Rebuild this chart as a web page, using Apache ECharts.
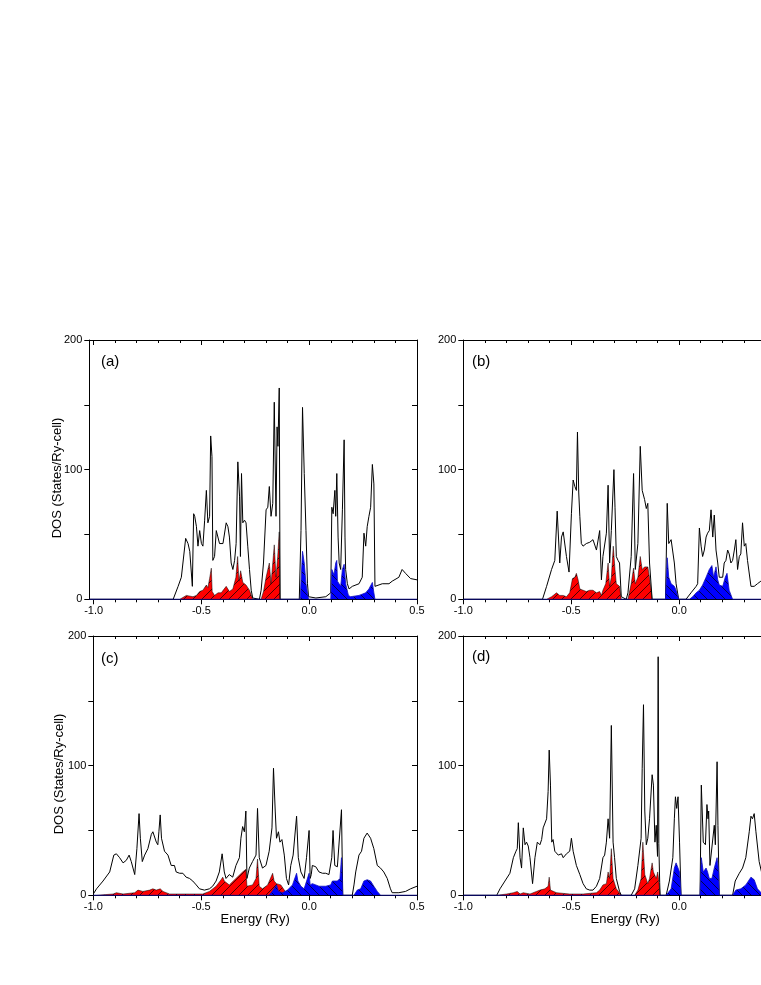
<!DOCTYPE html>
<html><head><meta charset="utf-8">
<script src="https://cdn.jsdelivr.net/npm/echarts@6/dist/echarts.min.js"></script>
<style>html,body{margin:0;padding:0;background:#fff}#c{width:761px;height:985px}</style>
</head><body><div id="c"></div>
<script>
// ---------- tick values / labels ----------
const xMajorTicks = [-1.0, -0.5, 0.0, 0.5];
const xMinorTicks = [-1.0, -0.9, -0.8, -0.7, -0.6, -0.5, -0.4, -0.3, -0.2, -0.1, 0.0, 0.1, 0.2, 0.3, 0.4, 0.5];
const yTicks = [0, 50, 100, 150, 200];
const yLabels = [0, 100, 200];
const panelLabels = ['(a)', '(b)', '(c)', '(d)'];
const xTitle = 'Energy (Ry)';
const yTitle = 'DOS (States/Ry-cell)';

// ---------- data: [energy (Ry), DOS] ----------
const totalA = [[-1.02,0],[-0.631,0],[-0.608,10],[-0.593,17],[-0.573,47],[-0.562,43],[-0.554,37],[-0.547,38],[-0.542,10],[-0.536,66],[-0.531,64],[-0.523,56],[-0.516,41],[-0.508,53],[-0.500,43],[-0.493,41],[-0.485,61],[-0.477,84],[-0.470,59],[-0.462,64],[-0.457,126],[-0.451,110],[-0.447,30],[-0.439,33],[-0.431,53],[-0.423,53],[-0.416,43],[-0.400,43],[-0.385,59],[-0.377,56],[-0.370,48],[-0.362,28],[-0.354,23],[-0.346,30],[-0.339,43],[-0.331,106],[-0.323,79],[-0.319,33],[-0.314,97],[-0.308,59],[-0.300,61],[-0.293,59],[-0.285,41],[-0.277,23],[-0.269,7],[-0.262,1],[-0.231,0],[-0.223,7],[-0.212,28],[-0.200,69],[-0.192,71],[-0.185,87],[-0.177,64],[-0.169,74],[-0.162,152],[-0.154,64],[-0.149,133],[-0.145,118],[-0.139,163],[-0.135,0],[-0.046,0],[-0.038,53],[-0.031,148],[-0.023,97],[-0.015,53],[-0.008,12],[-0.003,2],[0.031,1],[0.077,2],[0.100,5],[0.105,71],[0.111,66],[0.119,84],[0.123,64],[0.128,97],[0.134,48],[0.139,28],[0.146,23],[0.154,69],[0.162,123],[0.166,48],[0.169,23],[0.177,12],[0.185,8],[0.200,10],[0.231,12],[0.246,17],[0.254,51],[0.262,41],[0.269,56],[0.277,64],[0.285,71],[0.293,104],[0.300,89],[0.305,10],[0.339,12],[0.370,12],[0.385,14],[0.416,17],[0.431,23],[0.447,20],[0.470,16],[0.500,15]];
const redA = [[-1.02,0],[-0.600,0],[-0.570,3],[-0.539,2],[-0.523,3],[-0.508,6],[-0.493,7],[-0.477,11],[-0.470,9],[-0.462,16],[-0.454,24],[-0.450,6],[-0.439,3],[-0.423,5],[-0.408,5],[-0.385,10],[-0.370,6],[-0.354,8],[-0.340,17],[-0.332,33],[-0.326,14],[-0.318,22],[-0.308,13],[-0.293,11],[-0.277,7],[-0.262,0],[-0.223,0],[-0.212,6],[-0.200,17],[-0.185,28],[-0.177,12],[-0.169,28],[-0.162,42],[-0.154,17],[-0.146,33],[-0.139,52],[-0.135,0],[0.5,0]];
const blueA = [[-1.02,0],[-0.042,0],[-0.031,37],[-0.023,28],[-0.015,12],[-0.003,0],[0.100,0],[0.105,23],[0.115,19],[0.123,28],[0.128,30],[0.131,14],[0.146,10],[0.154,23],[0.162,27],[0.169,12],[0.182,3],[0.192,2],[0.231,3],[0.262,5],[0.277,8],[0.293,13],[0.300,5],[0.305,0],[0.5,0]];

const totalB = [[-1.0,0],[-0.633,0],[-0.614,10],[-0.591,23],[-0.576,30],[-0.565,68],[-0.553,28],[-0.545,48],[-0.537,52],[-0.530,51],[-0.522,33],[-0.510,21],[-0.499,66],[-0.491,92],[-0.483,87],[-0.476,84],[-0.471,129],[-0.465,82],[-0.460,64],[-0.453,43],[-0.445,41],[-0.430,43],[-0.414,44],[-0.399,46],[-0.383,38],[-0.368,53],[-0.360,15],[-0.353,33],[-0.337,51],[-0.329,88],[-0.322,28],[-0.314,53],[-0.302,100],[-0.297,71],[-0.291,33],[-0.283,30],[-0.276,28],[-0.268,2],[-0.245,0],[-0.237,5],[-0.222,33],[-0.211,97],[-0.203,23],[-0.191,43],[-0.180,118],[-0.171,84],[-0.160,77],[-0.152,70],[-0.145,74],[-0.137,28],[-0.125,0],[-0.063,0],[-0.055,74],[-0.048,43],[-0.037,46],[-0.022,28],[-0.014,12],[-0.002,0],[0.032,0],[0.055,5],[0.079,10],[0.086,12],[0.094,55],[0.102,41],[0.109,33],[0.117,38],[0.125,48],[0.132,51],[0.140,53],[0.148,69],[0.156,48],[0.163,65],[0.171,38],[0.179,28],[0.186,17],[0.194,16],[0.202,17],[0.209,28],[0.217,30],[0.225,38],[0.232,35],[0.240,28],[0.248,30],[0.256,38],[0.263,46],[0.271,23],[0.279,33],[0.286,35],[0.294,59],[0.302,41],[0.309,43],[0.317,30],[0.325,29],[0.333,10],[0.348,10],[0.363,12],[0.379,14],[0.420,15],[0.500,15]];
const redB = [[-1.0,0],[-0.614,0],[-0.591,2],[-0.568,5],[-0.553,3],[-0.537,3],[-0.522,2],[-0.507,5],[-0.494,16],[-0.483,17],[-0.476,20],[-0.468,15],[-0.460,8],[-0.445,7],[-0.430,6],[-0.414,7],[-0.399,7],[-0.383,5],[-0.368,6],[-0.360,3],[-0.353,7],[-0.340,12],[-0.329,28],[-0.322,10],[-0.314,17],[-0.305,41],[-0.297,23],[-0.291,12],[-0.276,10],[-0.268,0],[-0.237,0],[-0.222,12],[-0.211,24],[-0.203,12],[-0.191,17],[-0.180,33],[-0.171,23],[-0.160,25],[-0.145,25],[-0.137,17],[-0.125,0],[0.5,0]];
const blueB = [[-1.0,0],[-0.063,0],[-0.055,32],[-0.048,17],[-0.037,12],[-0.022,10],[-0.014,7],[-0.002,0],[0.048,0],[0.063,2],[0.079,5],[0.094,7],[0.109,11],[0.125,17],[0.140,23],[0.152,26],[0.160,17],[0.171,25],[0.179,15],[0.186,11],[0.202,10],[0.214,17],[0.222,20],[0.232,7],[0.248,0],[0.5,0]];

const totalC = [[-1.0,1],[-0.985,5],[-0.955,11],[-0.924,18],[-0.905,31],[-0.893,32],[-0.878,29],[-0.862,25],[-0.847,27],[-0.834,31],[-0.824,26],[-0.808,16],[-0.798,36],[-0.788,63],[-0.782,44],[-0.773,26],[-0.762,31],[-0.747,36],[-0.731,47],[-0.724,49],[-0.708,41],[-0.701,39],[-0.696,49],[-0.690,62],[-0.684,44],[-0.670,34],[-0.654,31],[-0.639,23],[-0.624,23],[-0.616,18],[-0.600,17],[-0.585,17],[-0.570,14],[-0.554,13],[-0.539,11],[-0.523,8],[-0.508,5],[-0.485,4],[-0.462,5],[-0.447,7],[-0.431,11],[-0.416,18],[-0.403,32],[-0.393,18],[-0.385,13],[-0.370,16],[-0.354,14],[-0.339,23],[-0.323,29],[-0.316,44],[-0.308,53],[-0.300,49],[-0.293,65],[-0.288,13],[-0.277,21],[-0.262,26],[-0.246,31],[-0.239,67],[-0.231,29],[-0.216,21],[-0.200,23],[-0.185,34],[-0.172,52],[-0.165,98],[-0.157,65],[-0.151,44],[-0.142,49],[-0.135,41],[-0.126,43],[-0.115,31],[-0.105,13],[-0.095,8],[-0.085,23],[-0.074,31],[-0.058,61],[-0.050,29],[-0.038,18],[-0.023,13],[-0.012,29],[0.000,50],[0.005,13],[0.010,16],[0.015,23],[0.031,22],[0.046,18],[0.062,17],[0.077,17],[0.092,16],[0.105,29],[0.111,50],[0.119,23],[0.131,22],[0.150,66],[0.156,0],[0.200,0],[0.208,8],[0.216,18],[0.231,31],[0.243,34],[0.254,44],[0.269,48],[0.285,44],[0.300,36],[0.316,23],[0.331,21],[0.346,18],[0.362,13],[0.377,5],[0.385,2],[0.416,2],[0.447,3],[0.470,5],[0.500,7]];
const redC = [[-1.0,0],[-0.985,0],[-0.908,1],[-0.893,2],[-0.862,1],[-0.808,2],[-0.793,4],[-0.785,5],[-0.770,3],[-0.739,4],[-0.724,5],[-0.708,4],[-0.690,5],[-0.677,3],[-0.647,1],[-0.554,1],[-0.493,1],[-0.462,3],[-0.431,7],[-0.408,12],[-0.400,14],[-0.393,11],[-0.370,8],[-0.339,13],[-0.308,18],[-0.293,20],[-0.288,7],[-0.262,8],[-0.246,13],[-0.239,28],[-0.231,7],[-0.216,5],[-0.192,8],[-0.169,17],[-0.162,11],[-0.151,9],[-0.131,8],[-0.115,4],[-0.100,1],[-0.085,0],[0.5,0]];
const blueC = [[-1.0,0],[-0.185,0],[-0.162,5],[-0.151,8],[-0.142,3],[-0.123,2],[-0.100,4],[-0.077,8],[-0.058,17],[-0.052,11],[-0.038,7],[-0.023,5],[0.000,17],[0.005,8],[0.015,9],[0.031,8],[0.046,7],[0.077,7],[0.100,8],[0.108,11],[0.131,11],[0.143,13],[0.150,29],[0.156,0],[0.208,0],[0.223,4],[0.239,5],[0.254,11],[0.269,12],[0.285,11],[0.300,7],[0.316,3],[0.331,0],[0.5,0]];

const totalD = [[-1.0,0],[-0.845,0],[-0.830,5],[-0.807,11],[-0.784,17],[-0.768,29],[-0.756,34],[-0.750,36],[-0.745,56],[-0.737,29],[-0.730,21],[-0.722,52],[-0.714,39],[-0.707,41],[-0.699,38],[-0.691,29],[-0.679,9],[-0.668,29],[-0.657,41],[-0.645,39],[-0.637,43],[-0.630,52],[-0.622,52],[-0.614,59],[-0.607,80],[-0.602,112],[-0.596,85],[-0.590,41],[-0.584,43],[-0.576,34],[-0.560,31],[-0.545,32],[-0.537,29],[-0.522,32],[-0.507,34],[-0.499,44],[-0.491,34],[-0.476,23],[-0.460,16],[-0.445,9],[-0.430,5],[-0.414,4],[-0.399,4],[-0.383,7],[-0.368,13],[-0.353,29],[-0.345,31],[-0.337,41],[-0.329,59],[-0.322,44],[-0.314,131],[-0.306,41],[-0.299,29],[-0.291,13],[-0.276,3],[-0.268,0],[-0.222,0],[-0.206,5],[-0.191,23],[-0.176,44],[-0.171,98],[-0.165,147],[-0.159,65],[-0.152,39],[-0.145,44],[-0.137,59],[-0.125,93],[-0.119,85],[-0.112,41],[-0.106,54],[-0.100,30],[-0.097,184],[-0.094,40],[-0.090,10],[-0.088,0],[-0.060,0],[-0.045,11],[-0.029,29],[-0.022,59],[-0.017,76],[-0.011,67],[-0.005,76],[0.002,41],[0.009,0],[0.097,0],[0.103,85],[0.112,41],[0.122,39],[0.129,70],[0.134,59],[0.137,65],[0.143,23],[0.152,23],[0.163,54],[0.168,39],[0.176,103],[0.180,54],[0.186,0],[0.248,0],[0.260,11],[0.279,17],[0.294,21],[0.309,29],[0.325,49],[0.333,61],[0.340,59],[0.348,63],[0.356,49],[0.371,26],[0.390,12],[0.420,4],[0.450,1],[0.500,0]];
const redD = [[-1.0,0],[-0.845,0],[-0.799,1],[-0.768,2],[-0.750,3],[-0.737,1],[-0.722,2],[-0.691,1],[-0.661,3],[-0.645,4],[-0.622,5],[-0.607,7],[-0.602,14],[-0.596,4],[-0.568,2],[-0.507,1],[-0.445,1],[-0.383,2],[-0.368,4],[-0.353,8],[-0.337,9],[-0.329,18],[-0.322,13],[-0.314,36],[-0.306,13],[-0.291,5],[-0.268,0],[-0.206,0],[-0.191,4],[-0.176,13],[-0.168,41],[-0.159,16],[-0.145,9],[-0.137,13],[-0.125,25],[-0.119,18],[-0.106,13],[-0.099,18],[-0.094,11],[-0.088,0],[0.5,0]];
const blueD = [[-1.0,0],[-0.060,0],[-0.037,5],[-0.022,21],[-0.014,25],[-0.005,25],[0.002,18],[0.009,0],[0.097,0],[0.103,29],[0.112,18],[0.125,21],[0.132,18],[0.140,13],[0.152,13],[0.163,21],[0.176,29],[0.183,18],[0.186,0],[0.248,0],[0.263,4],[0.286,5],[0.309,8],[0.333,14],[0.348,12],[0.363,5],[0.380,2],[0.400,0],[0.5,0]];

// ---------- styling / layout ----------
const FONT = '"Liberation Sans", Arial, Helvetica, sans-serif';

function hatch(bg, forward) {
  const s = 9;
  const c = document.createElement('canvas');
  c.width = s; c.height = s;
  const g = c.getContext('2d');
  g.fillStyle = bg; g.fillRect(0, 0, s, s);
  g.strokeStyle = '#000'; g.lineWidth = 0.7;
  g.beginPath();
  if (forward) {
    g.moveTo(0, s); g.lineTo(s, 0);
    g.moveTo(-1, 1); g.lineTo(1, -1);
    g.moveTo(s - 1, s + 1); g.lineTo(s + 1, s - 1);
  } else {
    g.moveTo(0, 0); g.lineTo(s, s);
    g.moveTo(-1, s - 1); g.lineTo(1, s + 1);
    g.moveTo(s - 1, -1); g.lineTo(s + 1, 1);
  }
  g.stroke();
  return c;
}
const redFill = { image: hatch('#ff0000', true), repeat: 'repeat' };
const blueFill = { image: hatch('#0000ff', false), repeat: 'repeat' };

const panels = [
  { grid: { left: 89.3, top: 340, width: 327.7, height: 259.3 }, xMin: -1.02, total: totalA, red: redA, blue: blueA, label: panelLabels[0], lx: 101, ly: 362, yName: true, xName: false, nx: 57, ny: 478 },
  { grid: { left: 463.3, top: 340, width: 323.7, height: 259.3 }, xMin: -1.0, total: totalB, red: redB, blue: blueB, label: panelLabels[1], lx: 472, ly: 362, yName: false, xName: false },
  { grid: { left: 93.3, top: 636, width: 323.7, height: 259.3 }, xMin: -1.0, total: totalC, red: redC, blue: blueC, label: panelLabels[2], lx: 101, ly: 659, yName: true, xName: true, nx: 59, ny: 774 },
  { grid: { left: 463.3, top: 636, width: 323.7, height: 259.3 }, xMin: -1.0, total: totalD, red: redD, blue: blueD, label: panelLabels[3], lx: 472, ly: 657, yName: false, xName: true }
];

const axisLine = { show: true, onZero: false, lineStyle: { color: '#000', width: 1 } };
const labelStyle = { color: '#000', fontSize: 11, fontFamily: FONT };
const grids = [], xAxes = [], yAxes = [], series = [], graphics = [];

panels.forEach((p, i) => {
  grids.push(Object.assign({ containLabel: false, show: false, outerBoundsMode: 'none' }, p.grid));
  const xBase = { type: 'value', gridIndex: i, min: p.xMin, max: 0.5, splitLine: { show: false }, axisPointer: { show: false } };
  xAxes.push(Object.assign({}, xBase, {
    position: 'bottom', axisLine: axisLine,
    axisTick: { show: true, inside: false, length: 5, customValues: xMajorTicks, lineStyle: { color: '#000' } },
    axisLabel: Object.assign({ show: true, margin: 6, customValues: xMajorTicks, formatter: v => v.toFixed(1) }, labelStyle),
    name: p.xName ? xTitle : '', nameLocation: 'middle', nameGap: 17,
    nameTextStyle: { color: '#000', fontSize: 13, fontFamily: FONT }
  }));
  xAxes.push(Object.assign({}, xBase, {
    position: 'bottom', axisLine: { show: false, onZero: false },
    axisTick: { show: true, inside: false, length: 3, customValues: xMinorTicks, lineStyle: { color: '#000' } },
    axisLabel: { show: false }
  }));
  xAxes.push(Object.assign({}, xBase, {
    position: 'top', axisLine: axisLine,
    axisTick: { show: true, inside: true, length: 5, customValues: xMajorTicks, lineStyle: { color: '#000' } },
    axisLabel: { show: false }
  }));
  xAxes.push(Object.assign({}, xBase, {
    position: 'top', axisLine: { show: false, onZero: false },
    axisTick: { show: true, inside: true, length: 3, customValues: xMinorTicks, lineStyle: { color: '#000' } },
    axisLabel: { show: false }
  }));
  const yBase = { type: 'value', gridIndex: i, min: 0, max: 200, splitLine: { show: false } };
  yAxes.push(Object.assign({}, yBase, {
    position: 'left', axisLine: axisLine,
    axisTick: { show: true, inside: false, length: 5, customValues: yTicks, lineStyle: { color: '#000' } },
    axisLabel: Object.assign({ show: true, margin: 7, customValues: yLabels }, labelStyle)
  }));
  yAxes.push(Object.assign({}, yBase, {
    position: 'right', axisLine: axisLine,
    axisTick: { show: true, inside: true, length: 5, customValues: yTicks, lineStyle: { color: '#000' } },
    axisLabel: { show: false }
  }));
  const xi = i * 4, yi = i * 2;
  series.push({ type: 'line', xAxisIndex: xi, yAxisIndex: yi, data: p.red, symbol: 'none', animation: false, z: 2,
    lineStyle: { color: '#000', width: 0.5 }, areaStyle: { color: redFill, opacity: 1 } });
  series.push({ type: 'line', xAxisIndex: xi, yAxisIndex: yi, data: p.total, symbol: 'none', animation: false, z: 3,
    lineStyle: { color: '#000', width: 1 } });
  series.push({ type: 'line', xAxisIndex: xi, yAxisIndex: yi, data: p.blue, symbol: 'none', animation: false, z: 4,
    lineStyle: { color: '#1010c0', width: 0.8 }, areaStyle: { color: blueFill, opacity: 1 } });
  graphics.push({ type: 'text', x: p.lx, y: p.ly, z: 10,
    style: { text: p.label, fill: '#000', font: '15px ' + FONT, textVerticalAlign: 'middle', verticalAlign: 'middle' } });
  if (p.yName) {
    graphics.push({ type: 'text', x: p.nx, y: p.ny, rotation: Math.PI / 2, z: 10,
      style: { text: yTitle, fill: '#000', font: '13px ' + FONT, textAlign: 'center', align: 'center', textVerticalAlign: 'middle', verticalAlign: 'middle' } });
  }
});

const chart = echarts.init(document.getElementById('c'), null, { renderer: 'canvas', width: 761, height: 985 });
chart.setOption({
  backgroundColor: '#fff',
  animation: false,
  grid: grids, xAxis: xAxes, yAxis: yAxes, series: series, graphic: graphics
});
</script>
</body></html>
